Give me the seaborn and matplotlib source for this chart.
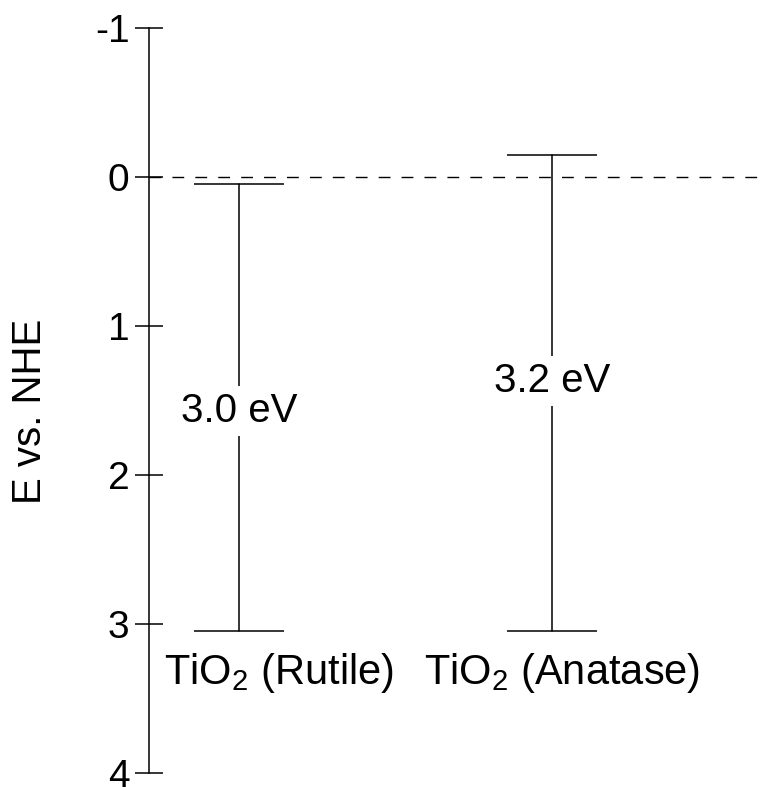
import numpy as np
import pandas as pd
import matplotlib
matplotlib.use("Agg")
import matplotlib.pyplot as plt
import seaborn as sns

# Band edges of the two TiO2 polymorphs (E vs. NHE, in V)
materials = ["TiO$_2$ (Rutile)", "TiO$_2$ (Anatase)"]
valence_band = [3.05, 3.05]
band_gap = [3.0, 3.2]
gap_labels = ["3.0 eV", "3.2 eV"]
y_ticks = [-1, 0, 1, 2, 3, 4]

sns.set_theme(style="ticks")
plt.rcParams["font.family"] = ["Liberation Sans", "DejaVu Sans"]
plt.rcParams["mathtext.fontset"] = "custom"
plt.rcParams["mathtext.rm"] = "Liberation Sans"
plt.rcParams["mathtext.default"] = "regular"
for key in ["text.color", "axes.labelcolor", "xtick.color", "ytick.color"]:
    plt.rcParams[key] = "black"

vb = np.array(valence_band)
cb = vb - np.array(band_gap)
pos = np.arange(len(materials))

df = pd.DataFrame({
    "material": materials * 2,
    "pos": np.concatenate([pos, pos]),
    "E": np.concatenate([cb, vb]),
})

fig = plt.figure(figsize=(7.65, 7.87), dpi=100)
ax = fig.add_axes([149 / 765, 1 - 773 / 787, 1 - 149 / 765, (773 - 28) / 787])

lw = 1.1
# vertical gap lines
sns.lineplot(data=df, x="pos", y="E", units="material", estimator=None,
             color="black", linewidth=lw, sort=False, ax=ax, legend=False)
# band-edge caps
cap = 0.144
ax.hlines(cb, pos - cap, pos + cap, color="black", linewidth=lw)
ax.hlines(vb, pos - cap, pos + cap, color="black", linewidth=lw)

# NHE reference line
ax.axhline(0, color="black", linewidth=1.0, dashes=(8.5, 8))

# gap labels
label_y = [1.57, 1.37]
for p, y, t in zip(pos, label_y, gap_labels):
    ax.text(p, y, t, ha="center", va="center", fontsize=29,
            bbox=dict(boxstyle="square,pad=0.15", fc="white", ec="none"))

# material names
name_x = [0.128, 1.032]
for x, name in zip(name_x, materials):
    ax.text(x, 3.33, name, ha="center", va="center", fontsize=30)

ax.set_xlim(-0.2875, 1.68)
ax.set_ylim(4, -1)
ax.set_yticks(y_ticks)
ax.set_yticklabels([str(v) for v in y_ticks])
ax.set_xticks([])
ax.set_xlabel("")
ax.set_ylabel("E vs. NHE", fontsize=29)
ax.yaxis.set_label_coords(-0.162, 0.486)
ax.tick_params(axis="y", direction="inout", length=20, width=lw,
               labelsize=28, pad=4, colors="black")
sns.despine(ax=ax, top=True, right=True, bottom=True)
ax.spines["left"].set_linewidth(lw)
ax.spines["left"].set_color("black")
ax.set_facecolor("white")
fig.patch.set_facecolor("white")

fig.savefig("out.png", dpi=100)
